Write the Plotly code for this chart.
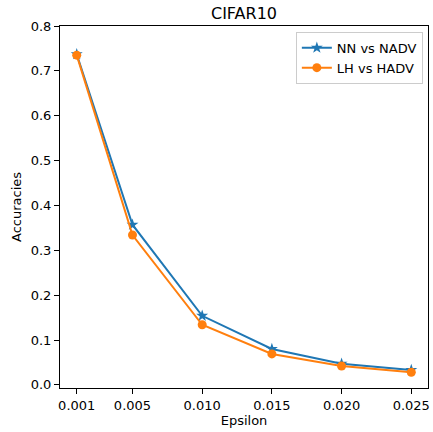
import plotly.graph_objects as go

epsilon = [0.001, 0.005, 0.010, 0.015, 0.020, 0.025]
nn_vs_nadv = [0.737, 0.357, 0.154, 0.080, 0.047, 0.033]
lh_vs_hadv = [0.735, 0.334, 0.134, 0.069, 0.042, 0.028]
x_tick_labels = ["0.001", "0.005", "0.010", "0.015", "0.020", "0.025"]
y_ticks = [0.0, 0.1, 0.2, 0.3, 0.4, 0.5, 0.6, 0.7, 0.8]

font = "DejaVu Sans"
W, H = 433, 432
fig = go.Figure()
fig.add_trace(go.Scatter(x=epsilon, y=nn_vs_nadv, mode="lines+markers", name="NN vs NADV",
                         line=dict(color="#1f77b4", width=2),
                         marker=dict(symbol="star", size=9, color="#1f77b4")))
fig.add_trace(go.Scatter(x=epsilon, y=lh_vs_hadv, mode="lines+markers", name="LH vs HADV",
                         line=dict(color="#ff7f0e", width=2),
                         marker=dict(symbol="circle", size=9, color="#ff7f0e")))

axis_common = dict(showline=True, linecolor="black", linewidth=1, mirror=True,
                   ticks="outside", ticklen=5, tickcolor="black", showgrid=False,
                   zeroline=False, tickfont=dict(family=font, size=13, color="black"))
fig.update_layout(
    width=W, height=H,
    margin=dict(l=60, r=3, t=26, b=44),
    paper_bgcolor="white", plot_bgcolor="white",
    title=dict(text="CIFAR10", x=0.5, xref="paper", xanchor="center", yref="container",
               y=1 - 13.5/H, yanchor="middle",
               font=dict(family=font, size=16, color="black")),
    xaxis=dict(range=[-0.0002, 0.0262], tickvals=epsilon, ticktext=x_tick_labels,
               title=dict(text="Epsilon", font=dict(family=font, size=13, color="black"), standoff=4),
               **axis_common),
    yaxis=dict(range=[-0.007, 0.8], tickvals=y_ticks, ticktext=[f"{v:.1f}" for v in y_ticks],
               title=dict(text="Accuracies", font=dict(family=font, size=13, color="black"), standoff=6),
               **axis_common),
    legend=dict(x=0.986, y=0.984, xanchor="right", yanchor="top", bordercolor="#cccccc", borderwidth=1,
                bgcolor="white", font=dict(family=font, size=13, color="black"), tracegroupgap=0,
                itemwidth=30),
    showlegend=True,
)
fig.write_html("out.html", config={"displayModeBar": False},
               post_script="document.body.style.margin='0';")
